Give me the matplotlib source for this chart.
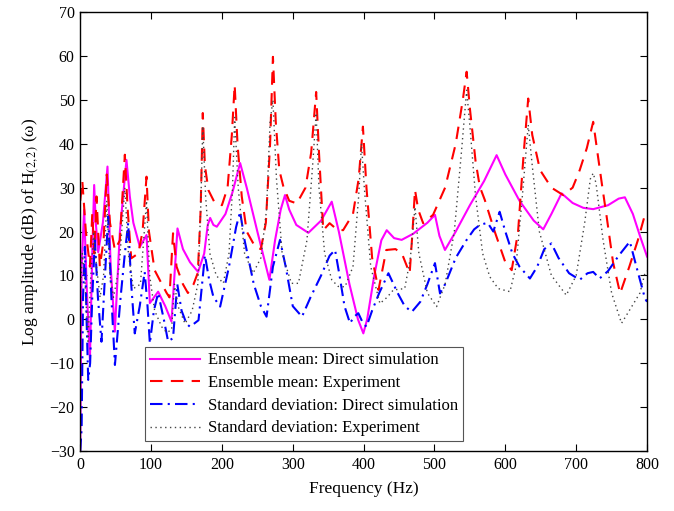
import matplotlib
matplotlib.use("Agg")
import matplotlib.pyplot as plt

plt.rcParams['mathtext.fontset'] = 'stix'
plt.rcParams['font.family'] = 'Liberation Serif'

# Ensemble mean: Direct simulation (magenta, solid)
f_mean_sim = [0, 2, 5.6, 9, 13.7, 17, 19.7, 22, 25.4, 32, 38.5, 43, 48.9, 56, 65.3, 70, 75, 84.2,
              93.6, 98.3, 110, 120, 128.8, 137.3, 145, 155, 166.4, 175, 180, 183.4, 188, 192.8,
              205, 215, 225.7, 235, 250, 267, 275, 283, 289, 295, 305, 322, 340, 355, 365, 380,
              392, 399.6, 405, 415, 425, 432.6, 443, 453.7, 470, 490, 500.7, 507, 514.8, 530,
              550, 570, 587.7, 600, 620, 640, 653.5, 665, 679.4, 695, 710, 724, 745, 760, 768.7,
              780, 790, 800]
db_mean_sim = [-30, 12, 25, 8, -9.3, 15, 30.6, 22, 15.3, 22, 34.8, 12, -2.8, 20, 36.3, 28, 22, 16.5,
               19.2, 3.7, 6.3, 3, -0.5, 20.7, 16, 13, 10.8, 15, 21.5, 23.1, 21.5, 21.1,
               24, 29, 35.6, 30, 20, 9, 18, 25, 28.3, 25, 21.5, 19.7, 22.5, 26.8, 20, 8,
               0, -3.2, 0, 10, 18, 20.3, 18.5, 18.1, 19.5, 22, 23.8, 19, 15.8, 20,
               26, 31.5, 37.4, 33, 27, 22.5, 20.5, 24, 28.7, 26.5, 25.4, 25.1, 26, 27.5, 27.8,
               24, 19, 14.3]

# Ensemble mean: Experiment (red, dashed)
f_mean_exp = [0, 3, 8, 13.7, 17, 20, 23, 27.7, 33, 37.5, 42, 48.9, 56, 63, 67, 72, 82, 88, 93.6,
              97, 105, 114.7, 122, 126, 131, 136, 145, 152, 160, 166, 170, 173, 176, 181, 190,
              200, 208, 214, 218, 222, 228, 235, 247, 255, 262, 268, 272, 276, 281, 286.8, 295,
              305.7, 318, 326, 333, 337, 343, 352, 362, 371, 385, 393, 399, 404, 412, 421, 432,
              445, 454, 465, 469, 472.5, 477, 484, 498, 515, 530, 540, 545.4, 550, 558, 564, 571,
              585, 600, 609, 618, 626, 632.3, 638, 649, 665, 681.7, 695, 705, 715, 724, 730, 737,
              743, 752, 762, 775, 787, 797, 800]
db_mean_exp = [27, 31.5, 20, 12, 24, 15, 28, 12, 18, 33, 22, 15.8, 18, 37.5, 25, 13.9, 15, 20, 32.5,
               20, 11.2, 8.2, 6, 5, 19.6, 12, 8, 6, 8, 10.6, 25, 47, 35, 29.4, 26.5,
               26, 30, 42, 53.4, 40, 28, 20, 16.5, 16, 22, 40, 59.8, 45, 34, 30.2, 27,
               26.4, 30, 38, 51.8, 38, 20.3, 21.9, 20.5, 20.3, 24, 32, 43.9, 30, 14, 6.7, 15.8,
               16, 15, 10.5, 20, 29.5, 25, 21.9, 23.8, 30, 40, 50, 56.4, 48, 36, 30.2, 27.2,
               20, 13, 11.2, 20, 38, 50.3, 42, 34, 30, 28.3, 30, 34, 39, 45, 38, 30,
               23.4, 13, 5.9, 12, 18, 23.8, 24]

# Standard deviation: Direct simulation (blue, dash-dot)
f_std_sim = [0, 2, 4, 6.6, 9, 11.3, 14, 17, 20.7, 25, 30, 35, 39.5, 44, 49, 57, 63, 67.7, 72, 77,
             84, 91, 95, 98.3, 104, 110, 118, 124, 131, 137, 143, 150, 155, 167, 172, 176, 182,
             188, 197.5, 210, 220, 225.7, 232, 245, 255, 263, 272, 282, 290, 300, 313, 325, 340,
             352, 359.7, 366, 373, 380.8, 386, 392.5, 398, 404, 412, 422, 435, 448, 458, 468,
             480, 490, 500.7, 507.8, 515, 530, 545, 556, 564, 575, 583, 592, 600, 610, 620,
             634.7, 645, 655, 665, 675, 690, 705, 716, 724, 733, 745, 760, 775.7, 785, 797, 800]
db_std_sim = [-30, -25, 5, 16.5, 0, -13.8, -10, 5, 18, 5, -5.1, 10, 23.4, 5, -10.4, 5, 15, 21.9, 8, -3.2,
              3, 10.8, 3, -5.5, 2, 6, 0, -5, -4.3, 8, 2, -1, -1.7, -0.2, 8, 14.6, 9,
              5.1, 2.9, 12, 21, 24.5, 18, 8, 3, 0.6, 12, 18.1, 12, 3, 0.6, 5, 10,
              14.5, 15.8, 10, 3, -0.9, 0.5, 1.4, -0.5, -1.7, 2, 6, 10.5, 6, 3, 1.7,
              4, 8, 12.8, 5.9, 8, 14, 18, 20.5, 21.5, 22, 20, 24.5, 20, 15, 12,
              9.3, 12, 16, 17.3, 14, 10.5, 9, 10.5, 10.8, 9.3, 11, 14.5, 17.7, 12, 4.8, 4]

# Standard deviation: Experiment (grey, dotted)
f_std_exp = [0, 3, 7, 11, 15, 19, 23, 28, 33, 37.5, 42, 47, 55, 63, 68, 75, 85, 93.6, 98, 105,
             115, 122, 129, 133, 138, 148, 158, 166, 170, 173, 177, 183, 192, 202, 210, 215, 218,
             223, 232, 244, 255, 263, 268, 272, 277, 285, 298, 308, 320, 328, 333, 337, 345, 355,
             364, 373.7, 385, 393, 397, 401, 410, 423, 433, 442, 458, 466, 472.5, 478, 490, 503,
             515, 528, 538, 545.4, 550, 558, 568, 578, 590, 606.5, 615, 624, 632.3, 638, 648,
             665, 686, 700, 712, 720, 724, 728, 738, 750, 764, 775, 790, 797, 800]
db_std_exp = [5, 15, 8, -5, 10, 20, 12, 5, 10, 27, 10, 5, 12, 30, 15, 7, 8, 27, 10, 2,
              -1.7, -3, -2.4, 8, 3, -1, 2, 8, 25, 44, 28, 15, 10, 8.2, 15, 30, 46,
              30, 15, 10.5, 14, 25, 45, 50, 32, 15, 8.2, 8.2, 18, 35, 47, 30, 15, 9,
              7.5, 7.4, 12, 28, 40, 30, 12, 3.6, 5, 6.7, 7, 14, 25.6, 15, 6, 2.9,
              8, 20, 38, 52.2, 44, 28, 15, 9.7, 7, 6.3, 12, 28, 44.3, 35, 20,
              10, 5.5, 10, 22, 32, 33.3, 31, 18, 6, -0.9, 2, 6, 10.5, 11]

fig = plt.figure(figsize=(6.74, 5.11), dpi=100)
ax = fig.add_axes([0.119, 0.1174, 0.841, 0.859])

ax.plot(f_mean_sim, db_mean_sim, color='magenta', lw=1.5, ls='-',
        label='Ensemble mean: Direct simulation')
ax.plot(f_mean_exp, db_mean_exp, color='red', lw=1.5, ls=(0, (6, 4)),
        label='Ensemble mean: Experiment')
ax.plot(f_std_sim, db_std_sim, color='blue', lw=1.5, ls=(0, (6, 2.5, 1, 2.5)),
        label='Standard deviation: Direct simulation')
ax.plot(f_std_exp, db_std_exp, color='#444444', lw=1.0, ls=(0, (1, 2.5)),
        label='Standard deviation: Experiment')

ax.set_xlim(0, 800)
ax.set_ylim(-30, 70)
ax.set_xticks(range(0, 801, 100))
ax.set_yticks(range(-30, 71, 10))
ax.tick_params(direction='in', top=True, right=True, length=5, labelsize=11.5, pad=4)
for sp in ax.spines.values():
    sp.set_linewidth(1.0)

ax.set_xlabel('Frequency (Hz)', fontsize=12.5, labelpad=6)
ax.set_ylabel('Log amplitude (dB) of H$_{(2,2)}$ (ω)', fontsize=12.5, labelpad=6)

leg = ax.legend(loc='lower left', bbox_to_anchor=(0.114, 0.022), prop={'size': 12},
                fancybox=False, edgecolor='#555555', framealpha=1, handlelength=3.0,
                handletextpad=0.5, borderpad=0.3, labelspacing=0.4, borderaxespad=0)
leg.get_frame().set_linewidth(0.8)

fig.savefig('out.png', dpi=100)
